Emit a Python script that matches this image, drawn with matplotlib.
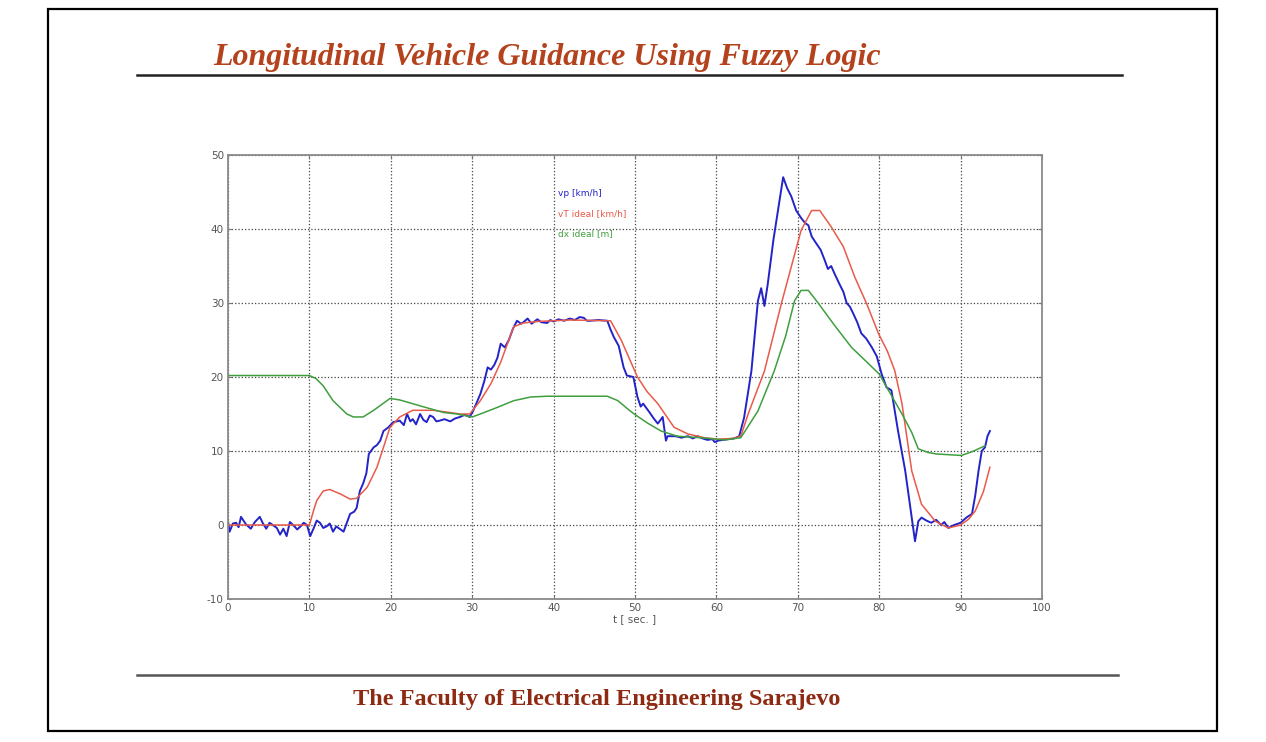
import matplotlib
matplotlib.use("Agg")
import matplotlib.pyplot as plt
from matplotlib.lines import Line2D
from matplotlib.patches import Rectangle

plt.rcParams["axes.unicode_minus"] = False

# measured vehicle speed vp [km/h]
t_vp = [0.0, 0.2, 0.6, 1.0, 1.3, 1.6, 2.2, 2.8, 3.3, 3.9, 4.3, 4.7, 5.1, 5.5, 6.0, 6.4, 6.8, 7.2, 7.6, 8.0,
        8.5, 8.9, 9.3, 9.7, 10.1, 10.5, 10.9, 11.3, 11.7, 12.1, 12.5, 12.9, 13.3, 13.7, 14.2, 14.6, 15.0, 15.5,
        15.8, 16.2, 16.6, 17.0, 17.3, 17.9, 18.3, 18.7, 19.1, 19.7, 20.3, 21.1, 21.6, 22.0, 22.4, 22.7, 23.1,
        23.6, 24.0, 24.4, 24.8, 25.2, 25.6, 26.0, 26.6, 27.3, 27.9, 28.5, 29.1, 29.7, 30.1, 30.5, 31.0, 31.5,
        31.9, 32.3, 32.7, 33.1, 33.5, 34.0, 34.5, 35.0, 35.5, 36.0, 36.3, 36.8, 37.3, 38.0, 38.5, 39.2, 39.6,
        40.0, 40.6, 41.3, 42.0, 42.6, 43.2, 43.7, 44.1, 44.5, 45.5, 46.6, 47.0, 47.4, 48.0, 48.6, 49.0, 49.8,
        50.3, 50.7, 51.0, 51.8, 52.3, 52.8, 53.4, 53.8, 54.0, 55.0, 55.7, 56.5, 57.1, 57.7, 58.3, 58.9, 59.5,
        59.8, 60.2, 60.8, 61.5, 62.2, 62.8, 63.4, 64.3, 65.1, 65.5, 65.9, 66.3, 67.0, 68.2, 68.7, 69.2, 69.8,
        70.4, 70.9, 71.3, 71.7, 72.3, 72.8, 73.3, 73.7, 74.1, 74.5, 75.1, 75.6, 76.0, 76.4, 76.8, 77.3, 77.8,
        78.4, 79.1, 79.7, 80.3, 80.9, 81.5, 82.3, 83.2, 84.0, 84.4, 84.8, 85.2, 85.8, 86.4, 87.0, 87.6, 88.0,
        88.5, 89.2, 90.0, 90.7, 91.4, 91.8, 92.2, 92.6, 93.0, 93.3, 93.6]
vp = [0.5, -0.9, 0.2, 0.3, -0.3, 1.1, 0.1, -0.5, 0.4, 1.1, 0.2, -0.5, 0.3, 0.0, -0.4, -1.3, -0.5, -1.5, 0.4, 0.0,
      -0.6, -0.2, 0.3, 0.0, -1.5, -0.5, 0.6, 0.3, -0.4, -0.2, 0.2, -0.9, -0.2, -0.5, -0.9, 0.3, 1.5, 1.8,
      2.3, 4.6, 5.6, 7.0, 9.6, 10.5, 10.8, 11.4, 12.7, 13.2, 13.9, 14.1, 13.5, 15.0, 14.0, 14.3, 13.6,
      15.0, 14.2, 13.9, 14.8, 14.6, 14.0, 14.1, 14.3, 14.0, 14.4, 14.6, 14.9, 14.6, 15.4, 16.4, 17.7, 19.5,
      21.3, 21.0, 21.6, 22.6, 24.5, 24.0, 25.0, 26.5, 27.6, 27.2, 27.4, 27.9, 27.2, 27.8, 27.4, 27.3, 27.7,
      27.5, 27.8, 27.6, 27.9, 27.7, 28.1, 28.0, 27.6, 27.6, 27.7, 27.6, 26.4, 25.4, 24.2, 21.3, 20.2, 20.0,
      17.3, 16.0, 16.4, 15.2, 14.4, 13.7, 14.6, 11.4, 12.0, 12.0, 11.8, 12.0, 11.7, 12.0, 11.7, 11.5, 11.6,
      11.2, 11.4, 11.5, 11.6, 11.7, 12.0, 14.5, 20.8, 30.3, 32.0, 29.6, 32.5, 38.5, 47.0, 45.5, 44.4, 42.5,
      41.5, 40.8, 40.5, 39.0, 38.0, 37.2, 35.8, 34.6, 35.0, 34.0, 32.6, 31.5, 30.0, 29.5, 28.6, 27.4, 25.9,
      25.2, 24.0, 22.8, 20.4, 18.6, 18.2, 12.8, 7.3, 1.0, -2.2, 0.5, 1.0, 0.6, 0.3, 0.7, 0.0, 0.4,
      -0.4, 0.0, 0.3, 1.0, 1.5, 4.0, 7.3, 10.0, 10.5, 12.0, 12.7]

# ideal vehicle speed vT [km/h]
t_vt = [0.0, 10.0, 10.5, 10.9, 11.7, 12.5, 13.8, 15.0, 15.8, 17.1, 18.3, 19.1, 19.9, 21.1, 22.7, 25.2, 27.3,
        28.5, 29.7, 31.0, 32.3, 33.5, 35.1, 36.3, 38.0, 42.0, 47.0, 48.3, 50.3, 51.5, 52.8, 54.8, 56.5, 58.5,
        60.2, 62.0, 63.0, 63.9, 65.9, 68.0, 70.4, 71.7, 72.7, 74.1, 75.6, 77.0, 78.5, 79.9, 81.0, 81.9, 82.8,
        84.0, 85.2, 86.9, 88.5, 90.0, 91.0, 91.8, 92.8, 93.6]
vt = [0.0, 0.0, 1.9, 3.3, 4.6, 4.8, 4.2, 3.5, 3.6, 5.1, 7.8, 10.5, 13.2, 14.6, 15.5, 15.5, 15.2,
      15.0, 15.0, 16.8, 19.1, 22.0, 26.8, 27.3, 27.5, 27.7, 27.6, 25.0, 20.0, 18.0, 16.4, 13.2, 12.3, 11.8,
      11.6, 11.7, 12.0, 15.0, 20.8, 30.0, 39.8, 42.5, 42.5, 40.3, 37.6, 33.5, 29.8, 25.9, 23.5, 20.9, 16.4,
      7.3, 2.8, 0.5, -0.4, 0.0, 0.8, 1.9, 4.5, 7.8]

# ideal distance dx [m]
t_dx = [0.0, 10.0, 10.8, 11.7, 12.9, 14.6, 15.4, 16.6, 17.9, 19.9, 21.1, 23.6, 26.5, 28.1, 30.0, 31.0, 33.1,
        35.1, 37.2, 39.2, 46.6, 47.9, 49.3, 49.9, 51.5, 53.2, 55.2, 58.0, 61.0, 63.0, 65.1, 67.1, 68.5, 69.6,
        70.4, 71.3, 72.5, 74.5, 76.6, 78.5, 80.0, 81.5, 82.8, 84.0, 84.8, 86.0, 87.0, 90.1, 91.4, 93.0]
dx = [20.2, 20.2, 19.8, 18.8, 16.8, 15.0, 14.6, 14.6, 15.5, 17.1, 16.9, 16.1, 15.2, 15.0, 14.6, 15.0, 15.9,
      16.8, 17.3, 17.4, 17.4, 16.8, 15.5, 15.0, 13.8, 12.7, 12.0, 11.8, 11.5, 11.8, 15.4, 20.8, 25.5, 30.3,
      31.7, 31.7, 30.0, 27.0, 24.0, 22.0, 20.4, 17.5, 15.0, 12.5, 10.3, 9.8, 9.6, 9.4, 9.9, 10.7]

x_ticks = [0, 10, 20, 30, 40, 50, 60, 70, 80, 90, 100]
y_ticks = [-10, 0, 10, 20, 30, 40, 50]
legend_labels = ["vp [km/h]", "vT ideal [km/h]", "dx ideal [m]"]
legend_y = [44.8, 42.1, 39.4]

blue = "#2323c8"
red = "#e85a4a"
green = "#3f9f3f"

fig = plt.figure(figsize=(12.66, 7.42), dpi=100)

# slide frame, rules and captions
fig.add_artist(Rectangle((48 / 1266, 1 - 731 / 742), (1217 - 48) / 1266, (731 - 9) / 742,
                         transform=fig.transFigure, fill=False, edgecolor="black", linewidth=1.6))
fig.add_artist(Line2D([137 / 1266, 1122 / 1266], [1 - 75 / 742] * 2, transform=fig.transFigure,
                      color="#222222", linewidth=1.8))
fig.add_artist(Line2D([137 / 1266, 1118 / 1266], [1 - 675 / 742] * 2, transform=fig.transFigure,
                      color="#555555", linewidth=1.8))
fig.text(547 / 1266, 1 - 58 / 742, "Longitudinal Vehicle Guidance Using Fuzzy Logic",
         fontfamily="Liberation Serif", fontstyle="italic", fontweight="bold", fontsize=23,
         color="#b4421c", ha="center", va="center")
fig.text(597 / 1266, 1 - 700 / 742, "The Faculty of Electrical Engineering Sarajevo",
         fontfamily="Liberation Serif", fontweight="bold", fontsize=17.5,
         color="#8e2a12", ha="center", va="center")

ax = fig.add_axes([228 / 1266, 1 - 599 / 742, (1042 - 228) / 1266, (599 - 155) / 742])
ax.plot(t_vp, vp, color=blue, linewidth=1.4)
ax.plot(t_vt, vt, color=red, linewidth=1.1)
ax.plot(t_dx, dx, color=green, linewidth=1.1)

for label, y, c in zip(legend_labels, legend_y, [blue, red, green]):
    ax.text(40.6, y, label, color=c, fontsize=6.5, va="center", ha="left")

ax.set_xlim(0, 100)
ax.set_ylim(-10, 50)
ax.set_xticks(x_ticks)
ax.set_yticks(y_ticks)
ax.grid(True, linestyle=":", color="#444444", linewidth=0.9)
ax.tick_params(direction="in", length=3, top=True, right=True, labelsize=7.5,
               labelcolor="#555555", color="#777777", pad=3)
for s in ax.spines.values():
    s.set_color("#8a8a8a")
    s.set_linewidth(1.3)
ax.set_xlabel("t [ sec. ]", fontsize=7.5, color="#555555", labelpad=1)

fig.savefig("out.png", dpi=100)
